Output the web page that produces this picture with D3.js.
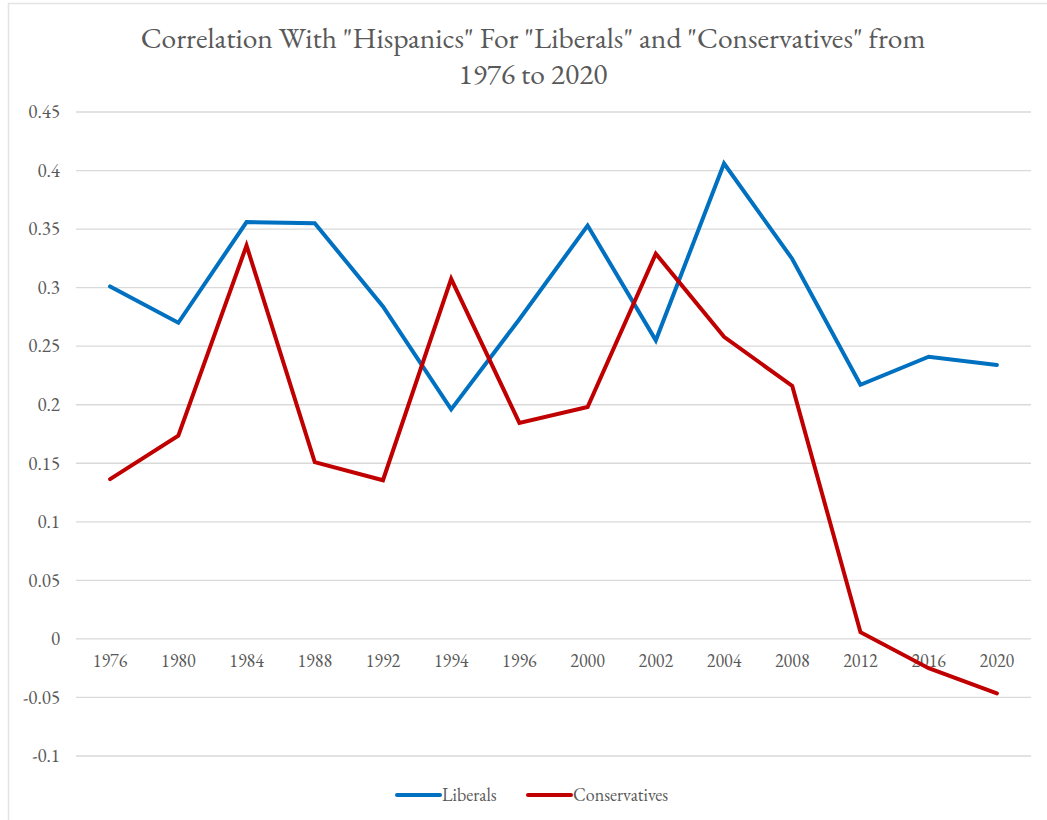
<!DOCTYPE html>
<html>
<head>
<meta charset="utf-8">
<script src="https://cdn.jsdelivr.net/npm/d3@7"></script>
<style>
  html, body { margin: 0; padding: 0; background: #fff; }
  svg { display: block; }
  text { font-family: "EB Garamond", Garamond, "Liberation Serif", "DejaVu Serif", serif; fill: #595959; }
</style>
</head>
<body>
<svg id="chart" width="1047" height="820"></svg>
<script>
// Survey years on the category axis
const years = ["1976","1980","1984","1988","1992","1994","1996","2000","2002","2004","2008","2012","2016","2020"];

// Correlation with "Hispanics" by group
const liberals = [0.301, 0.270, 0.356, 0.355, 0.284, 0.196, 0.273, 0.353, 0.255, 0.406, 0.3245, 0.217, 0.241, 0.234];
const conservatives = [0.1365, 0.1735, 0.336, 0.151, 0.1355, 0.3075, 0.1845, 0.198, 0.329, 0.258, 0.216, 0.0057, -0.025, -0.0465];

// Y-axis tick values
const yTicks = [-0.1, -0.05, 0, 0.05, 0.1, 0.15, 0.2, 0.25, 0.3, 0.35, 0.4, 0.45];

const seriesNames = ["Liberals", "Conservatives"];
const seriesColors = ["#0070c0", "#c00000"];

const svg = d3.select("#chart");
const W = 1047, H = 820;
const plot = { left: 76, right: 1031, top: 112, bottom: 756 };

// Outer chart frame (only the top and left edges fall inside the view)
svg.append("rect")
  .attr("x", 8.5).attr("y", 3.5)
  .attr("width", W + 20).attr("height", H + 20)
  .attr("fill", "#fff")
  .attr("stroke", "#e3e3e3")
  .attr("stroke-width", 1.5);

const x = d3.scaleBand().domain(years).range([plot.left, plot.right]);
const y = d3.scaleLinear().domain([-0.1, 0.45]).range([plot.bottom, plot.top]);

// Horizontal gridlines
svg.append("g")
  .selectAll("line")
  .data(yTicks)
  .join("line")
  .attr("x1", plot.left).attr("x2", plot.right)
  .attr("y1", d => y(d)).attr("y2", d => y(d))
  .attr("stroke", "#d9d9d9")
  .attr("stroke-width", 1.3);

// Y axis labels
const fmt = d => (Math.round(d * 100) / 100).toString();
svg.append("g")
  .selectAll("text")
  .data(yTicks)
  .join("text")
  .attr("x", 60)
  .attr("y", d => y(d))
  .attr("dy", "0.33em")
  .attr("text-anchor", "end")
  .attr("font-size", 19)
  .text(fmt);

// X axis labels sit just below the zero line
svg.append("g")
  .selectAll("text")
  .data(years)
  .join("text")
  .attr("x", d => x(d) + x.bandwidth() / 2)
  .attr("y", y(0) + 28)
  .attr("text-anchor", "middle")
  .attr("font-size", 18)
  .text(d => d);

// Lines
const line = d3.line()
  .x((d, i) => x(years[i]) + x.bandwidth() / 2)
  .y(d => y(d));

[liberals, conservatives].forEach((vals, k) => {
  svg.append("path")
    .datum(vals)
    .attr("d", line)
    .attr("fill", "none")
    .attr("stroke", seriesColors[k])
    .attr("stroke-width", 4)
    .attr("stroke-linejoin", "miter")
    .attr("stroke-linecap", "round");
});

// Title, two lines
const titleLines = ['Correlation With "Hispanics" For "Liberals" and "Conservatives" from', "1976 to 2020"];
svg.append("g")
  .selectAll("text")
  .data(titleLines)
  .join("text")
  .attr("x", 533)
  .attr("y", (d, i) => 48 + i * 36)
  .attr("text-anchor", "middle")
  .attr("font-size", 29.5)
  .text(d => d);

// Legend
const legend = svg.append("g");
const legendX = [397, 528];
seriesNames.forEach((name, k) => {
  const g = legend.append("g").attr("transform", `translate(${legendX[k]},795)`);
  g.append("line")
    .attr("x1", 0).attr("x2", 43)
    .attr("y1", 0).attr("y2", 0)
    .attr("stroke", seriesColors[k])
    .attr("stroke-width", 4)
    .attr("stroke-linecap", "round");
  g.append("text")
    .attr("x", 45).attr("y", 0)
    .attr("dy", "0.33em")
    .attr("font-size", 18)
    .text(name);
});
</script>
</body>
</html>
